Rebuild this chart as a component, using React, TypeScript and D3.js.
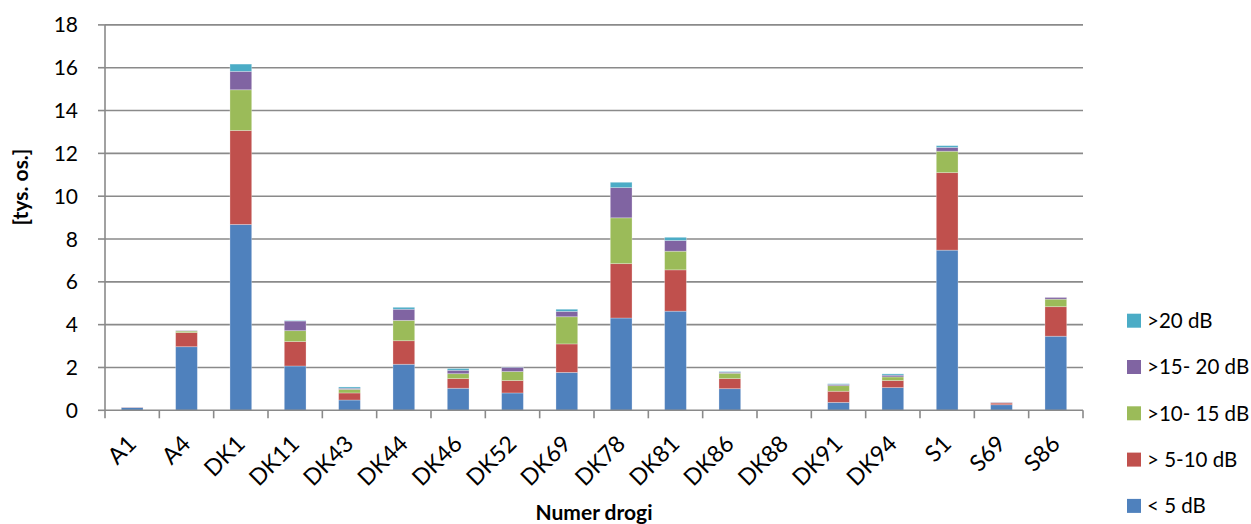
import React from "react";
import * as d3 from "d3";

const categories = ["A1", "A4", "DK1", "DK11", "DK43", "DK44", "DK46", "DK52", "DK69", "DK78", "DK81", "DK86", "DK88", "DK91", "DK94", "S1", "S69", "S86"];
const seriesNames = ["< 5 dB", "> 5-10 dB", ">10- 15 dB", ">15- 20 dB", ">20 dB"];
const seriesColors = ["#4F81BD", "#C0504D", "#9BBB59", "#8064A2", "#4BACC6"];
const lt5 = [0.13, 2.97, 8.68, 2.07, 0.48, 2.15, 1.03, 0.81, 1.77, 4.31, 4.63, 1.01, 0, 0.37, 1.06, 7.48, 0.26, 3.46];
const s5to10 = [0.01, 0.66, 4.39, 1.14, 0.33, 1.10, 0.45, 0.58, 1.33, 2.54, 1.93, 0.47, 0, 0.52, 0.33, 3.62, 0.08, 1.38];
const s10to15 = [0.0, 0.07, 1.90, 0.51, 0.17, 0.95, 0.23, 0.42, 1.27, 2.14, 0.87, 0.25, 0, 0.26, 0.17, 1.00, 0.01, 0.35];
const s15to20 = [0.0, 0.02, 0.86, 0.45, 0.05, 0.52, 0.16, 0.20, 0.25, 1.41, 0.50, 0.05, 0, 0.06, 0.08, 0.18, 0.02, 0.08];
const gt20 = [0.0, 0.0, 0.34, 0.02, 0.06, 0.09, 0.08, 0.01, 0.10, 0.25, 0.15, 0.03, 0, 0.03, 0.06, 0.08, 0.0, 0.0];
const yTicks = [0, 2, 4, 6, 8, 10, 12, 14, 16, 18];

const FONT = "Lato, 'Open Sans', sans-serif";

export default function App() {
  const W = 1251, H = 524;
  const left = 105, right = 1083, top = 24.9, bottom = 410.3;
  const x = d3.scaleBand<string>().domain(categories).range([left, right]).paddingInner(0.6).paddingOuter(0.3);
  const xb = d3.scaleBand<string>().domain(categories).range([left, right]);
  const y = d3.scaleLinear().domain([0, 18]).range([bottom, top]);
  const rows = categories.map((c, i) => ({ c, s0: lt5[i], s1: s5to10[i], s2: s10to15[i], s3: s15to20[i], s4: gt20[i] }));
  const stack = d3.stack<any>().keys(["s0", "s1", "s2", "s3", "s4"])(rows);
  const legendOrder = [4, 3, 2, 1, 0];

  return (
    <svg width={W} height={H} style={{ position: "absolute", left: 0, top: 0, background: "#fff" }} fontFamily={FONT}>
      {yTicks.filter((t) => t > 0).map((t) => (
        <line key={"g" + t} x1={left} x2={right} y1={y(t)} y2={y(t)} stroke="#8a8a8a" strokeWidth={1.6} />
      ))}
      {stack.map((layer, si) =>
        layer.map((d, i) => {
          const h = y(d[0]) - y(d[1]);
          if (h <= 0) return null;
          return (
            <rect key={si + "-" + i} x={x(categories[i])!} width={x.bandwidth()} y={y(d[1])} height={h}
              fill={seriesColors[si]} stroke="#ffffff" strokeOpacity={0.35} strokeWidth={0.8} />
          );
        })
      )}
      <line x1={left} x2={left} y1={top} y2={bottom} stroke="#8a8a8a" strokeWidth={1.6} />
      <line x1={left} x2={right} y1={bottom} y2={bottom} stroke="#8a8a8a" strokeWidth={1.6} />
      {yTicks.map((t) => (
        <g key={"yt" + t}>
          <line x1={left - 7} x2={left} y1={y(t)} y2={y(t)} stroke="#8a8a8a" strokeWidth={1.6} />
          <text x={78} y={y(t)} dy="0.36em" textAnchor="end" fontSize={21} fill="#000">{t}</text>
        </g>
      ))}
      {categories.map((c) => (
        <line key={"xt" + c} x1={xb(c)!} x2={xb(c)!} y1={bottom} y2={bottom + 8} stroke="#8a8a8a" strokeWidth={1.6} />
      ))}
      <line x1={right} x2={right} y1={bottom} y2={bottom + 8} stroke="#8a8a8a" strokeWidth={1.6} />
      {categories.map((c) => {
        const cx = xb(c)! + xb.bandwidth() / 2 + 5.5;
        const cy = bottom + 35;
        return (
          <text key={"xl" + c} x={cx} y={cy} textAnchor="end" fontSize={23} fill="#000" transform={`rotate(-45 ${cx} ${cy})`}>{c}</text>
        );
      })}
      <text x={594} y={520} textAnchor="middle" fontSize={21} fontWeight="bold" fill="#000">Numer drogi</text>
      <text x={0} y={0} transform="translate(28 187) rotate(-90)" textAnchor="middle" fontSize={21} fontWeight="bold" fill="#000">[tys. os.]</text>
      {legendOrder.map((si, k) => {
        const cy = 320.7 + k * 46.3;
        return (
          <g key={"lg" + si}>
            <rect x={1127} y={cy - 7} width={14} height={14} fill={seriesColors[si]} />
            <text x={1147} y={cy} dy="0.36em" fontSize={20.5} fill="#000">{seriesNames[si]}</text>
          </g>
        );
      })}
    </svg>
  );
}
